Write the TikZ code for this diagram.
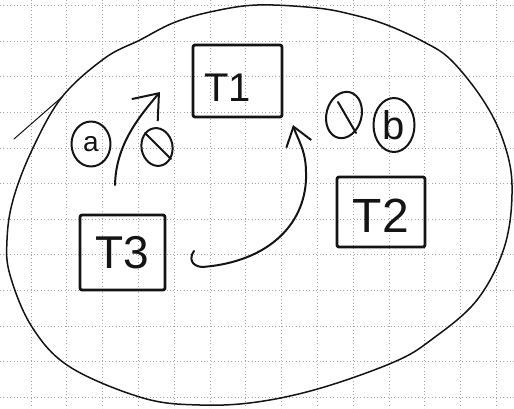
\documentclass[tikz,border=0pt]{standalone}
\usepackage{fontspec}
\setmainfont{Liberation Sans}
\usetikzlibrary{arrows.meta,shapes.geometric}
\begin{document}
\begin{tikzpicture}[x=1pt,y=-1pt,
  ink/.style={draw=black!92, line cap=round, line join=round},
  gridline/.style={draw=black!35, line width=0.7pt, dash pattern=on 1pt off 2.4pt},
  taskbox/.style={ink, line width=2.8pt, rounded corners=2pt, inner sep=0pt, text=black!92},
  flow/.style={ink, line width=2pt},
  tag/.style={ellipse, ink, line width=2pt, inner sep=0pt, text=black!92},
]
\useasboundingbox (0,0) rectangle (514,408);
\fill[white] (0,0) rectangle (514,408);

% squared paper
\foreach \i in {0,...,13} \draw[gridline] ({31+35.8*\i},0) -- ({31+35.8*\i},408);
\foreach \j in {0,...,11} \draw[gridline] (0,{5.5+35.6*\j}) -- (514,{5.5+35.6*\j});

% enclosing loop
\draw[ink, line width=1.5pt] plot[smooth cycle, tension=0.6] coordinates {
  (7,240) (13,200) (32,150) (62,97) (105,58) (140,40) (173,23) (210,12) (257,5)
  (317,8) (354,15) (387,25) (424,42) (451,60) (483,100) (503,140) (512,185)
  (505,245) (477,300) (431,340) (394,362) (321,388) (257,402) (200,405)
  (143,398) (70,367) (32,327) (10,275)};
\draw[ink, line width=1pt] (62,97) -- (14,139);

% tasks
\node[taskbox, minimum width=89pt, minimum height=72pt,
  label={[xshift=-10pt, yshift=-7pt, text=black!92, font=\fontsize{40}{40}\selectfont]center:T1}]
  (t1) at (237.5,81) {};
\node[taskbox, minimum width=85pt, minimum height=75pt, font=\fontsize{46}{46}\selectfont]
  (t3) at (122.5,252.5) {T3};
\node[taskbox, minimum width=88pt, minimum height=70pt,
  label={[yshift=-4pt, text=black!92, font=\fontsize{48}{48}\selectfont]center:T2}]
  (t2) at (381,212) {};

% transitions
\coordinate (a0) at (115,185);
\coordinate (a1) at (160,92);
\draw[flow, -{Straight Barb[length=22pt, width=34pt]}]
  (a0) .. controls (116,145) and (138,118) .. (a1);

\coordinate (b0) at (194,251);
\coordinate (b1) at (293,125);
\draw[flow, -{Straight Barb[length=18pt, width=26pt]}]
  (b0) .. controls (189,258) and (191,266) .. (202,267)
  .. controls (270,262) and (308,222) .. (306,172)
  .. controls (306,150) and (297,138) .. (b1);

% lock marks
\node[tag, minimum width=39pt, minimum height=45pt, font=\fontsize{28}{28}\selectfont]
  (la) at (91,144) {a};
\node[tag, minimum width=31pt, minimum height=38pt, rotate=10] (ls) at (157,147) {};
\draw[ink, line width=2pt] ([shift={(-12,-14)}]ls.center) -- ([shift={(14,12)}]ls.center);

\node[tag, minimum width=35pt, minimum height=47pt, rotate=-15] (rs) at (344,115) {};
\draw[ink, line width=2pt] ([shift={(-6,-13)}]rs.center) -- ([shift={(12,18)}]rs.center);
\node[tag, minimum width=41pt, minimum height=54pt, font=\fontsize{40}{40}\selectfont]
  (rb) at (394,125) {b};
\end{tikzpicture}
\end{document}
